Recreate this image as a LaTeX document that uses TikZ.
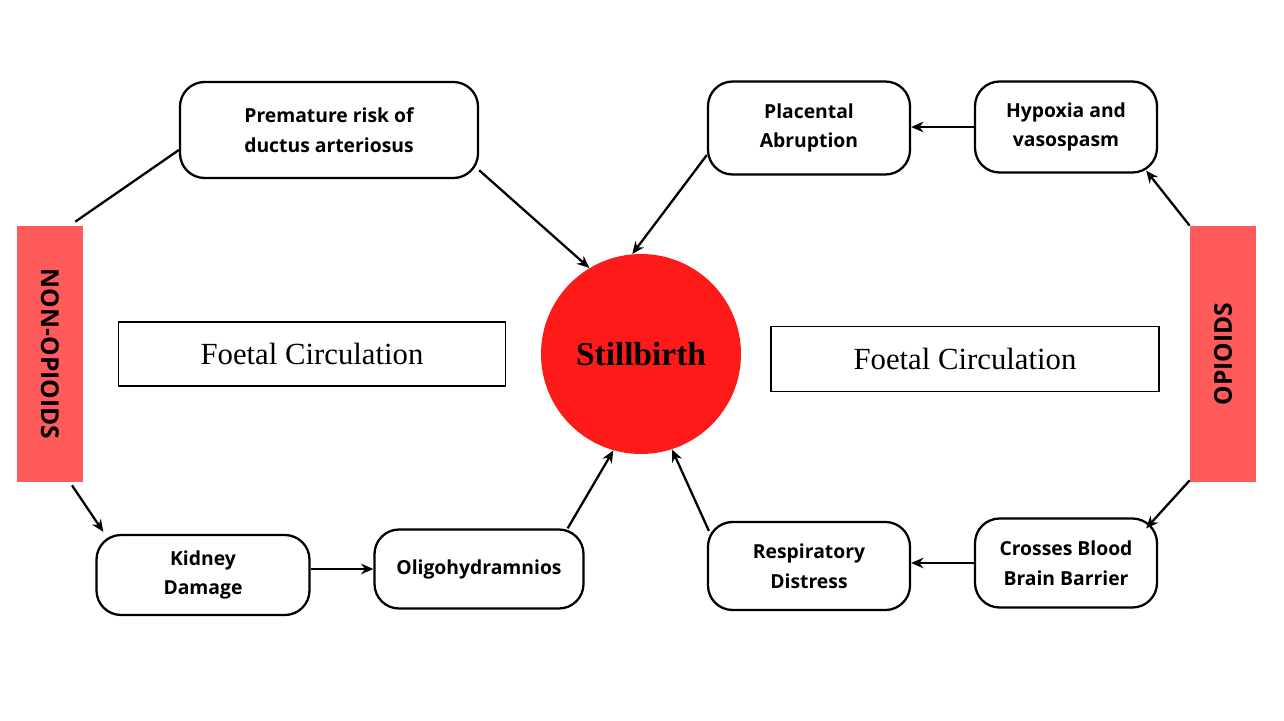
\documentclass[tikz,border=0pt]{standalone}
\usepackage{fontspec}
\setmainfont{Open Sans}
\newfontfamily\timesfont{Liberation Serif}
\usetikzlibrary{arrows.meta,calc}
\definecolor{barred}{HTML}{FF5B5B}
\definecolor{ballred}{HTML}{FF1A1A}
\tikzset{
  stepbox/.style={draw,line width=1.3pt,rounded corners=14pt,align=center,
    font=\fontsize{11}{17}\selectfont\bfseries,inner sep=2pt},
  sidebar/.style={fill=barred,minimum width=66*0.02cm,minimum height=256*0.02cm,inner sep=0pt},
  barlabel/.style={font=\fontsize{14}{16}\selectfont\bfseries,inner sep=0pt},
  circbox/.style={draw,line width=1.1pt,font=\timesfont\fontsize{17.5}{20}\selectfont,inner sep=0pt},
  link/.style={line width=1.3pt},
  flow/.style={line width=1.3pt,-{Stealth[length=7pt,width=6pt]}}
}
\begin{document}
\begin{tikzpicture}[x=0.02cm,y=-0.02cm]
    \useasboundingbox (0,0) rectangle (1284,720);

    % boxes
    \node[stepbox,minimum width=298*0.02cm,minimum height=96*0.02cm] (prem) at (329,130) {Premature risk of\\ductus arteriosus};
    \node[stepbox,minimum width=202*0.02cm,minimum height=93*0.02cm] (plac) at (809,128) {Placental\\Abruption};
    \node[stepbox,minimum width=182*0.02cm,minimum height=91*0.02cm] (hyp) at (1066,127) {Hypoxia and\\vasospasm};
    \node[stepbox,minimum width=213*0.02cm,minimum height=80*0.02cm] (kid) at (203,575) {Kidney\\Damage};
    \node[stepbox,minimum width=209*0.02cm,minimum height=79*0.02cm] (olig) at (479,569) {Oligohydramnios};
    \node[stepbox,minimum width=202*0.02cm,minimum height=88*0.02cm] (resp) at (809,566) {Respiratory\\Distress};
    \node[stepbox,minimum width=182*0.02cm,minimum height=89*0.02cm] (cross) at (1066,563) {Crosses Blood\\Brain Barrier};

    % side bars
    \node[sidebar] (nonop) at (50,354) {};
    \node[barlabel,rotate=-90] (nonoplabel) at (nonop.center) {NON-OPIOIDS};
    \node[sidebar] (op) at (1223,354) {};
    \node[barlabel,rotate=90] (oplabel) at (op.center) {OPIOIDS};

    % circulation labels
    \node[circbox,minimum width=387*0.02cm,minimum height=64*0.02cm] (circl) at (312,354) {Foetal Circulation};
    \node[circbox,minimum width=388*0.02cm,minimum height=65*0.02cm] (circr) at (965,359) {Foetal Circulation};

    % centre
    \node[circle,fill=ballred,minimum size=200*0.02cm,inner sep=0pt,
          font=\timesfont\fontsize{19}{22}\selectfont\bfseries] (still) at (641,354) {Stillbirth};

    % connectors
    \draw[link] ($(prem.west)+(0,20)$) -- ($(nonop.north east)+(-8,-4)$);
    \draw[flow] (prem.-15) -- (still.121);
    \draw[flow] ($(plac.west)+(0,27)$) -- (still.95);
    \draw[flow] (hyp.west) -- (hyp.west -| plac.east);
    \draw[flow] (op.north west) -- ($(hyp.south east)+(-12,-3)$);
    \draw[flow] ($(op.south west)+(0,-2)$) -- ($(cross.north east)+(-12,11)$);
    \draw[flow] (cross.west) -- (cross.west -| resp.east);
    \draw[flow] ($(resp.north west)+(2,10)$) -- (still.-72);
    \draw[flow] ($(olig.north east)+(-17,0)$) -- (still.-106);
    \draw[flow] ($(kid.east)+(0,-6)$) -- ($(kid.east -| olig.west)+(0,-6)$);
    \draw[flow] ($(nonop.south)+(22,3)$) -- ($(kid.north west)+(8,-2)$);
\end{tikzpicture}
\end{document}
